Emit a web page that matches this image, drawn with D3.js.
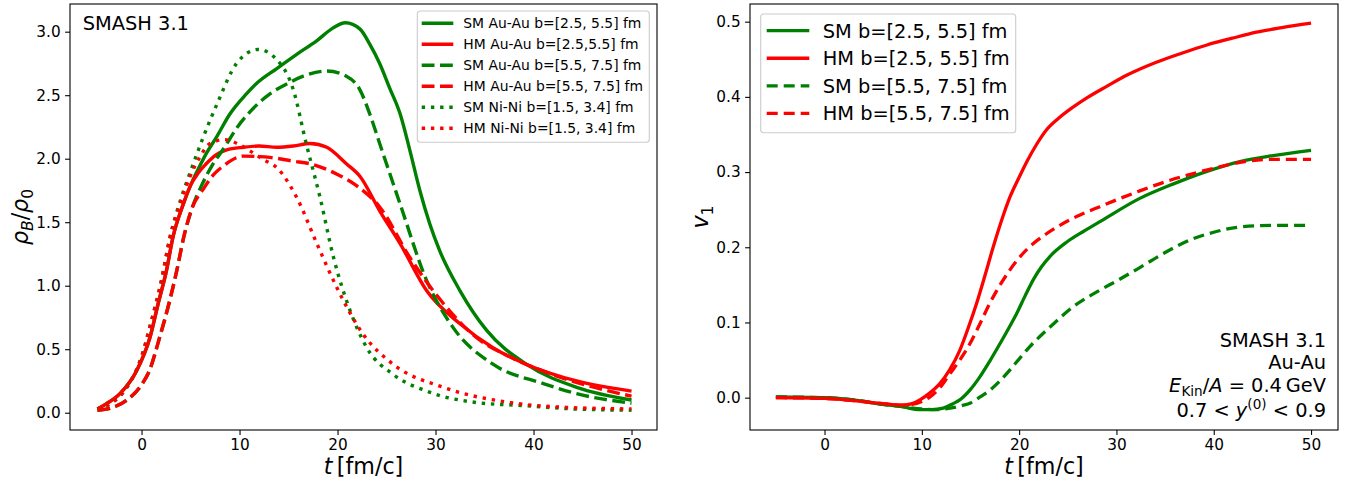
<!DOCTYPE html>
<html>
<head>
<meta charset="utf-8">
<script src="https://cdn.jsdelivr.net/npm/d3@7"></script>
<style>
  body { margin: 0; background: #fff; }
  svg text { font-family: 'DejaVu Sans', sans-serif; fill: #000; }
</style>
</head>
<body>
<svg id="chart" width="1345" height="480"></svg>
<script>
// ---- left panel: baryon density rho_B/rho_0 vs t ----
const rhoTimeSmAuCentral = [-4.5, -3.6, -2.2, -0.5, 0.85, 1.7, 2.55, 3.2, 4.25, 5.0, 5.8, 6.6, 7.65, 9.0, 10.7, 11.7, 13.8, 15.8, 17.9, 19.55, 20.8, 22.3, 23.3, 24.3, 25.3, 26.4, 27.4, 28.4, 29.4, 30.4, 32.5, 35.2, 39.3, 44.4, 50]
const rhoSmAuCentral = [0.03, 0.07, 0.15, 0.33, 0.59, 0.86, 1.12, 1.38, 1.64, 1.79, 1.92, 2.04, 2.17, 2.35, 2.51, 2.59, 2.71, 2.82, 2.93, 3.03, 3.07, 3.02, 2.90, 2.75, 2.56, 2.35, 2.06, 1.75, 1.49, 1.28, 0.96, 0.65, 0.38, 0.20, 0.10]

const rhoTimeHmAuCentral = [-4.5, -3.6, -2.2, -0.5, 0.85, 1.7, 2.55, 3.2, 4.25, 5.0, 5.8, 6.6, 7.6, 8.7, 10.4, 12, 13.8, 15.5, 17.2, 18.9, 20.9, 22.3, 24.3, 26.4, 29.1, 32.5, 35.9, 39.3, 44.4, 50]
const rhoHmAuCentral = [0.03, 0.07, 0.15, 0.33, 0.59, 0.86, 1.12, 1.38, 1.64, 1.79, 1.89, 1.96, 2.03, 2.07, 2.09, 2.10, 2.09, 2.10, 2.12, 2.09, 1.96, 1.86, 1.59, 1.33, 0.96, 0.70, 0.51, 0.38, 0.25, 0.17]

const rhoTimeSmAuPeripheral = [-4.5, -3, -1.5, 0, 0.8, 1.87, 2.8, 3.6, 4.3, 5.2, 6.2, 7.3, 8.3, 9.7, 11.7, 13.1, 15.1, 16.5, 18.9, 20.9, 22.3, 23.3, 24.3, 26.4, 29.1, 31.8, 35.9, 41.0, 44.4, 50]
const rhoSmAuPeripheral = [0.02, 0.04, 0.10, 0.22, 0.33, 0.60, 0.86, 1.12, 1.38, 1.62, 1.80, 1.96, 2.07, 2.24, 2.42, 2.51, 2.60, 2.65, 2.69, 2.65, 2.54, 2.35, 2.12, 1.64, 1.04, 0.67, 0.38, 0.23, 0.15, 0.075]

const rhoTimeHmAuPeripheral = [-4.5, -3, -1.5, 0, 0.8, 1.87, 2.8, 3.6, 4.3, 5.2, 6.3, 7.3, 8.3, 10.4, 13.1, 15.5, 17.2, 19.9, 21.9, 24.3, 27.4, 30.8, 34.2, 37.6, 42.7, 50]
const rhoHmAuPeripheral = [0.02, 0.04, 0.10, 0.22, 0.33, 0.60, 0.86, 1.12, 1.38, 1.62, 1.76, 1.87, 1.94, 2.02, 2.01, 1.98, 1.96, 1.88, 1.79, 1.62, 1.22, 0.86, 0.59, 0.44, 0.28, 0.13]

const rhoTimeSmNi = [-4.5, -3, -1.5, 0, 1, 2, 2.9, 4, 5, 6.3, 7.7, 9.7, 11.9, 13.8, 15.5, 16.8, 18.2, 19.6, 21.3, 23.0, 25.7, 29.1, 34.2, 39.3, 44, 50]
const rhoSmNi = [0.03, 0.08, 0.20, 0.44, 0.72, 1.03, 1.38, 1.68, 1.90, 2.17, 2.43, 2.75, 2.86, 2.78, 2.54, 2.12, 1.70, 1.22, 0.80, 0.51, 0.30, 0.17, 0.08, 0.055, 0.03, 0.02]

const rhoTimeHmNi = [-4.5, -3, -1.5, 0, 1, 2, 2.9, 4, 4.9, 6, 7, 8.5, 10, 11.1, 12.5, 13.8, 15.8, 17.9, 19.9, 22.6, 25.7, 30.8, 37.6, 44, 50]
const rhoHmNi = [0.03, 0.08, 0.20, 0.44, 0.72, 1.03, 1.38, 1.66, 1.85, 2.02, 2.12, 2.15, 2.11, 2.06, 1.99, 1.93, 1.70, 1.33, 0.99, 0.62, 0.38, 0.20, 0.08, 0.04, 0.03]

const rhoLabels = [
  'SM Au-Au b=[2.5, 5.5] fm', 'HM Au-Au b=[2.5,5.5] fm',
  'SM Au-Au b=[5.5, 7.5] fm', 'HM Au-Au b=[5.5, 7.5] fm',
  'SM Ni-Ni b=[1.5, 3.4] fm', 'HM Ni-Ni b=[1.5, 3.4] fm'
]

// ---- right panel: directed flow v1 vs t ----
const v1TimeSmCentral = [-5, 0, 3, 6, 8, 9.8, 11, 12.2, 13.2, 13.9, 15, 15.98, 17, 18.04, 19, 19.75, 20.6, 21.46, 22.3, 23.18, 24.9, 26.6, 28.3, 32.4, 35.8, 39.3, 42.7, 46.1, 50]
const v1SmCentral = [0.001, 0.0, -0.003, -0.009, -0.012, -0.016, -0.016, -0.014, -0.008, -0.003, 0.011, 0.028, 0.049, 0.072, 0.094, 0.112, 0.135, 0.157, 0.174, 0.188, 0.207, 0.221, 0.234, 0.265, 0.284, 0.301, 0.314, 0.322, 0.329]

const v1TimeHmCentral = [-5, 0, 3, 6, 8, 9, 9.8, 10.8, 11.87, 12.9, 13.9, 14.8, 15.64, 16.5, 17.35, 18.2, 19.06, 20.0, 20.8, 21.8, 22.8, 24, 25.5, 27, 29, 31.1, 34.1, 36.7, 39.3, 41.9, 44.4, 47, 50]
const v1HmCentral = [0.0, -0.001, -0.004, -0.008, -0.010, -0.008, -0.003, 0.006, 0.019, 0.038, 0.063, 0.094, 0.126, 0.163, 0.201, 0.236, 0.267, 0.293, 0.314, 0.337, 0.356, 0.371, 0.386, 0.399, 0.414, 0.429, 0.446, 0.458, 0.469, 0.478, 0.486, 0.492, 0.498]

const v1TimeSmPeripheral = [-5, 0, 3, 6, 8, 10, 11.5, 12.9, 14, 15, 16, 17, 18, 19.06, 20.1, 21.1, 22.1, 23.18, 25.57, 28.3, 30, 32.4, 35, 37.6, 40, 42.7, 46, 50]
const v1SmPeripheral = [0.001, 0.0, -0.003, -0.009, -0.012, -0.015, -0.016, -0.014, -0.011, -0.007, 0.001, 0.010, 0.022, 0.037, 0.053, 0.068, 0.081, 0.094, 0.121, 0.143, 0.155, 0.173, 0.193, 0.210, 0.220, 0.227, 0.229, 0.229]

const v1TimeHmPeripheral = [-5, 0, 3, 6, 8, 9, 10, 10.84, 11.9, 12.9, 13.9, 14.95, 16, 17.0, 18, 19.06, 20.2, 21.46, 22.7, 23.9, 26.26, 28.3, 30, 32.4, 35, 37.6, 40, 42.7, 46, 50]
const v1HmPeripheral = [0.0, -0.001, -0.004, -0.008, -0.010, -0.009, -0.005, 0.001, 0.014, 0.032, 0.050, 0.072, 0.099, 0.126, 0.149, 0.170, 0.189, 0.205, 0.217, 0.227, 0.243, 0.254, 0.263, 0.275, 0.287, 0.297, 0.305, 0.313, 0.317, 0.317]

const v1Labels = [
  'SM b=[2.5, 5.5] fm', 'HM b=[2.5, 5.5] fm',
  'SM b=[5.5, 7.5] fm', 'HM b=[5.5, 7.5] fm'
]

const timeTicks = [0, 10, 20, 30, 40, 50]
const rhoTicks = [0, 0.5, 1.0, 1.5, 2.0, 2.5, 3.0]
const v1Ticks = [0, 0.1, 0.2, 0.3, 0.4, 0.5]

const GREEN = '#008000'
const RED = '#ff0000'

const svg = d3.select('#chart')

const zip = (xs, ys) => xs.map((t, i) => ({ t, v: ys[i] }))

// write text made of parts: {s, it, sub, sup}
function richText(textSel, parts, fs) {
  parts.forEach(p => {
    const ts = textSel.append('tspan').text(p.s)
    if (p.it) ts.attr('font-style', 'italic')
    if (p.sub) ts.attr('font-size', fs * 0.7).attr('dy', fs * 0.22)
    if (p.sup) ts.attr('font-size', fs * 0.7).attr('dy', -fs * 0.38)
    if (p.back) ts.attr('dy', p.back * fs)
  })
  return textSel
}

function panel(cfg) {
  const x = d3.scaleLinear().domain(cfg.xDomain).range([cfg.left, cfg.right])
  const y = d3.scaleLinear().domain(cfg.yDomain).range([cfg.bottom, cfg.top])
  const g = svg.append('g')

  g.append('clipPath').attr('id', cfg.id + '-clip').
    append('rect').
    attr('x', cfg.left).attr('y', cfg.top).
    attr('width', cfg.right - cfg.left).attr('height', cfg.bottom - cfg.top)

  const line = d3.line().
    x(d => x(d.t)).
    y(d => y(d.v)).
    curve(d3.curveMonotoneX)

  g.append('g').attr('clip-path', `url(#${cfg.id}-clip)`).
    selectAll('path').
    data(cfg.series).
    join('path').
    attr('d', d => line(d.points)).
    attr('fill', 'none').
    attr('stroke', d => d.color).
    attr('stroke-width', cfg.lw).
    attr('stroke-dasharray', d => cfg.dashes[d.style])

  const xAxis = d3.axisBottom(x).tickValues(timeTicks).
    tickSize(4.9).tickPadding(4.5).tickSizeOuter(0)
  const yAxis = d3.axisLeft(y).tickValues(cfg.yTicks).
    tickFormat(d3.format('.1f')).tickSize(4.9).tickPadding(4.5).tickSizeOuter(0)

  const xg = g.append('g').attr('transform', `translate(0,${cfg.bottom})`).call(xAxis)
  const yg = g.append('g').attr('transform', `translate(${cfg.left},0)`).call(yAxis)
  for (const ag of [xg, yg]) {
    ag.select('.domain').remove()
    ag.attr('font-family', 'DejaVu Sans').attr('font-size', 15.3)
    ag.selectAll('line').attr('stroke', '#000').attr('stroke-width', 1.1)
    ag.selectAll('text').attr('fill', '#000')
  }

  g.append('rect').
    attr('x', cfg.left).attr('y', cfg.top).
    attr('width', cfg.right - cfg.left).attr('height', cfg.bottom - cfg.top).
    attr('fill', 'none').attr('stroke', '#000').attr('stroke-width', 1.1)

  // x label
  richText(g.append('text').
    attr('x', (cfg.left + cfg.right) / 2).attr('y', 474).
    attr('text-anchor', 'middle').attr('font-size', 22.2),
  [{ s: 't', it: true }, { s: '\u2009[fm/c]' }], 22.2)

  // legend
  const lg = cfg.legend
  g.append('rect').
    attr('x', lg.x).attr('y', lg.y).attr('width', lg.w).attr('height', lg.h).
    attr('rx', 3).attr('fill', '#fff').attr('fill-opacity', 0.8).
    attr('stroke', '#cccccc').attr('stroke-width', 1.1)
  const rows = g.append('g').selectAll('g').
    data(cfg.series).
    join('g').
    attr('transform', (d, i) => `translate(0,${lg.row0 + i * lg.step})`)
  rows.append('line').
    attr('x1', lg.hx0).attr('x2', lg.hx1).
    attr('stroke', d => d.color).attr('stroke-width', cfg.lw).
    attr('stroke-dasharray', d => cfg.dashes[d.style])
  rows.append('text').
    attr('x', lg.tx).attr('y', lg.fs * 0.36).
    attr('font-size', lg.fs).
    text(d => d.label)

  return { x, y, g }
}

panel({
  id: 'rho',
  left: 70, right: 657, top: 4, bottom: 430,
  xDomain: [-7.3, 52.6], yDomain: [-0.136, 3.218],
  yTicks: rhoTicks,
  lw: 3.4,
  dashes: { solid: null, dashed: '12.8,5.5', dotted: '3.4,5.8' },
  series: [
    { label: rhoLabels[0], color: GREEN, style: 'solid', points: zip(rhoTimeSmAuCentral, rhoSmAuCentral) },
    { label: rhoLabels[1], color: RED, style: 'solid', points: zip(rhoTimeHmAuCentral, rhoHmAuCentral) },
    { label: rhoLabels[2], color: GREEN, style: 'dashed', points: zip(rhoTimeSmAuPeripheral, rhoSmAuPeripheral) },
    { label: rhoLabels[3], color: RED, style: 'dashed', points: zip(rhoTimeHmAuPeripheral, rhoHmAuPeripheral) },
    { label: rhoLabels[4], color: GREEN, style: 'dotted', points: zip(rhoTimeSmNi, rhoSmNi) },
    { label: rhoLabels[5], color: RED, style: 'dotted', points: zip(rhoTimeHmNi, rhoHmNi) }
  ],
  legend: { x: 417.3, y: 11, w: 232, h: 131.3, row0: 23.3, step: 21, hx0: 421.7, hx1: 453.3, tx: 463.3, fs: 13.9 }
})

panel({
  id: 'v1',
  left: 750, right: 1338, top: 4, bottom: 430,
  xDomain: [-7.66, 52.77], yDomain: [-0.043, 0.5235],
  yTicks: v1Ticks,
  lw: 3.3,
  dashes: { solid: null, dashed: '11,6' },
  series: [
    { label: v1Labels[0], color: GREEN, style: 'solid', points: zip(v1TimeSmCentral, v1SmCentral) },
    { label: v1Labels[1], color: RED, style: 'solid', points: zip(v1TimeHmCentral, v1HmCentral) },
    { label: v1Labels[2], color: GREEN, style: 'dashed', points: zip(v1TimeSmPeripheral, v1SmPeripheral) },
    { label: v1Labels[3], color: RED, style: 'dashed', points: zip(v1TimeHmPeripheral, v1HmPeripheral) }
  ],
  legend: { x: 760.7, y: 14, w: 255, h: 118.7, row0: 30.7, step: 27.55, hx0: 766.7, hx1: 809.3, tx: 822.7, fs: 19.4 }
})

// y labels
richText(svg.append('text').
  attr('transform', 'translate(28,217) rotate(-90)').
  attr('text-anchor', 'middle').attr('font-size', 22.2),
[{ s: 'ρ', it: true }, { s: 'B', it: true, sub: true }, { s: '/', back: -0.22 }, { s: 'ρ', it: true }, { s: '0', sub: true }], 22.2)

richText(svg.append('text').
  attr('transform', 'translate(708,217) rotate(-90)').
  attr('text-anchor', 'middle').attr('font-size', 22.2),
[{ s: 'v', it: true }, { s: '1', sub: true }], 22.2)

// annotations
svg.append('text').attr('x', 82.7).attr('y', 30).attr('font-size', 19.4).text('SMASH 3.1')

const ann = svg.append('g').attr('font-size', 19.4).attr('text-anchor', 'end')
ann.append('text').attr('x', 1326).attr('y', 346.7).text('SMASH 3.1')
ann.append('text').attr('x', 1326).attr('y', 369.3).text('Au-Au')
richText(ann.append('text').attr('x', 1326).attr('y', 391.7),
  [{ s: 'E', it: true }, { s: 'Kin', sub: true }, { s: '/', back: -0.22 }, { s: 'A', it: true }, { s: ' = 0.4\u2009GeV' }], 19.4)
richText(ann.append('text').attr('x', 1326).attr('y', 416.7),
  [{ s: '0.7 < ' }, { s: 'y', it: true }, { s: '(0)', sup: true }, { s: ' < 0.9', back: 0.38 }], 19.4)
</script>
</body>
</html>
